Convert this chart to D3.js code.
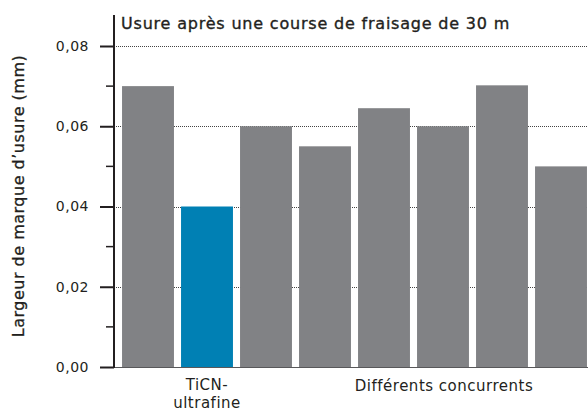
<!DOCTYPE html>
<html>
<head>
<meta charset="utf-8">
<script src="https://cdn.jsdelivr.net/npm/d3@7"></script>
<style>
  body { margin: 0; background: #fff; }
  svg text { font-family: "DejaVu Sans", "Noto Sans", sans-serif; fill: #231f20; }
</style>
</head>
<body>
<div id="chart"></div>
<script>
// bar data
var products = ["c1", "TiCN-ultrafine", "c3", "c4", "c5", "c6", "c7", "c8"];
var wear = [0.07, 0.04, 0.06, 0.055, 0.0645, 0.06, 0.0702, 0.05];
var highlight = "TiCN-ultrafine";
var majorTicks = [0, 0.02, 0.04, 0.06, 0.08];
var minorTicks = [0.01, 0.03, 0.05, 0.07];

var width = 588, height = 412;

var svg = d3.select("#chart")
  .append("svg")
  .attr("width", width)
  .attr("height", height);

var y = d3.scaleLinear().domain([0, 0.08]).range([367, 46]);

var x = d3.scaleBand()
  .domain(products)
  .range([118.5, 590.5])
  .paddingInner(0.12)
  .paddingOuter(0.06);

var fmt = function (d) { return d3.format(".2f")(d).replace(".", ","); };

// dotted grid lines
svg.append("g")
  .selectAll("line")
  .data(majorTicks.filter(function (d) { return d > 0; }))
  .enter()
  .append("line")
  .attr("x1", 114)
  .attr("x2", width)
  .attr("y1", function (d) { return Math.round(y(d)) + 0.5; })
  .attr("y2", function (d) { return Math.round(y(d)) + 0.5; })
  .style("stroke", "#444")
  .style("stroke-width", 1)
  .style("stroke-dasharray", "1,1");

// bars
svg.append("g")
  .selectAll("rect")
  .data(wear)
  .enter()
  .append("rect")
  .attr("x", function (d, i) { return x(products[i]); })
  .attr("width", x.bandwidth())
  .attr("y", function (d) { return y(d); })
  .attr("height", function (d) { return y(0) - y(d); })
  .style("fill", function (d, i) { return products[i] === highlight ? "#0080b4" : "#818285"; });

// baseline
svg.append("line")
  .attr("x1", 114).attr("x2", width)
  .attr("y1", y(0) + 0.5).attr("y2", y(0) + 0.5)
  .style("stroke", "#58585a")
  .style("stroke-width", 1.2);

// y axis
var yAxis = d3.axisLeft(y)
  .tickValues(majorTicks)
  .tickSize(14)
  .tickPadding(11)
  .tickFormat(fmt);

var gy = svg.append("g")
  .attr("transform", "translate(114,0)")
  .call(yAxis);

gy.select(".domain").remove();
gy.selectAll(".tick line").style("stroke", "#231f20").style("stroke-width", 2);
gy.selectAll(".tick text")
  .style("font-size", "14px")
  .style("letter-spacing", "0.5px")
  .style("fill", "#231f20");

gy.selectAll(".minor")
  .data(minorTicks)
  .enter()
  .append("line")
  .attr("class", "minor")
  .attr("x1", -8).attr("x2", 0)
  .attr("y1", function (d) { return y(d); })
  .attr("y2", function (d) { return y(d); })
  .style("stroke", "#231f20")
  .style("stroke-width", 1.5);

svg.append("line")
  .attr("x1", 114).attr("x2", 114)
  .attr("y1", 15).attr("y2", y(0) + 1)
  .style("stroke", "#231f20")
  .style("stroke-width", 2);

// title
svg.append("text")
  .attr("x", 121)
  .attr("y", 29)
  .style("font-size", "16px")
  .style("letter-spacing", "0.8px")
  .style("stroke", "#231f20")
  .style("stroke-width", 0.35)
  .text("Usure après une course de fraisage de 30 m");

// y label
svg.append("text")
  .attr("transform", "translate(24,196) rotate(-90)")
  .attr("text-anchor", "middle")
  .style("font-size", "16px")
  .style("letter-spacing", "0.5px")
  .style("stroke", "#231f20")
  .style("stroke-width", 0.3)
  .text("Largeur de marque d’usure (mm)");

// x labels
var cx = x(highlight) + x.bandwidth() / 2;
var lbl = svg.append("text")
  .attr("text-anchor", "middle")
  .style("font-size", "15px")
  .style("letter-spacing", "0.5px");
lbl.append("tspan").attr("x", cx).attr("y", 390).text("TiCN-");
lbl.append("tspan").attr("x", cx).attr("y", 408).text("ultrafine");

svg.append("text")
  .attr("x", 444)
  .attr("y", 391)
  .attr("text-anchor", "middle")
  .style("font-size", "15px")
  .style("letter-spacing", "0.5px")
  .text("Différents concurrents");
</script>
</body>
</html>
